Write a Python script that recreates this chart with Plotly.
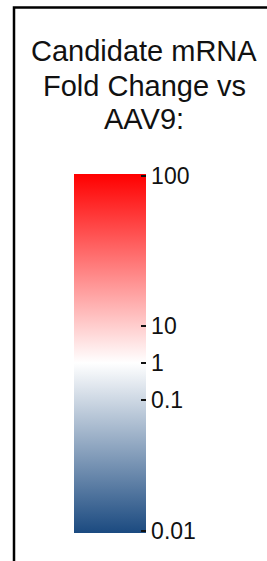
import plotly.graph_objects as go

W, H = 267, 561

# Colour bar scale (fold change vs AAV9)
tick_labels = ["0.01", "0.1", "1", "10", "100"]
tick_positions = [0.006, 0.370, 0.474, 0.577, 0.994]  # fraction along the bar
stop_positions = [0.0, 0.474, 1.0]
stop_colors = ["#1b4a80", "#ffffff", "#ff0000"]
title_lines = ["Candidate mRNA", "Fold Change vs", "AAV9:"]

FONT = "Liberation Sans Narrow, Arial Narrow, Liberation Sans, Arial, sans-serif"

colorscale = [[p, c] for p, c in zip(stop_positions, stop_colors)]

fig = go.Figure()
fig.add_trace(go.Scatter(
    x=[None], y=[None], mode="markers",
    marker=dict(
        color=[0.5], colorscale=colorscale, cmin=0, cmax=1, showscale=True,
        colorbar=dict(
            x=74 / W, xanchor="left", xpad=0,
            y=1 - 174 / H, yanchor="top", ypad=0,
            len=359, lenmode="pixels",
            thickness=72, thicknessmode="pixels",
            outlinewidth=0,
            tickmode="array", tickvals=tick_positions, ticktext=tick_labels,
            ticks="inside", ticklen=5, tickwidth=2, tickcolor="#111",
            tickfont=dict(family=FONT, size=23, color="#111"),
        ),
    ),
    hoverinfo="skip", showlegend=False,
))

title_y = [51, 86, 119]
for line, yy in zip(title_lines, title_y):
    fig.add_annotation(
        text=line, xref="paper", yref="paper", x=144 / W, y=1 - yy / H,
        xanchor="center", yanchor="middle", showarrow=False,
        font=dict(family=FONT, size=29, color="#111"),
    )

# frame (only its top and left edges fall inside the picture)
fig.add_shape(type="rect", xref="paper", yref="paper", layer="above",
              x0=14 / W, x1=1.5, y0=-0.5, y1=1 - 7.5 / H,
              line=dict(color="#000", width=2.5), fillcolor="rgba(0,0,0,0)")

fig.update_layout(
    width=W, height=H, margin=dict(l=0, r=0, t=0, b=0, pad=0, autoexpand=False),
    paper_bgcolor="white", plot_bgcolor="rgba(0,0,0,0)",
    xaxis=dict(visible=False), yaxis=dict(visible=False),
)

fig.write_html(
    "out.html",
    config={"displayModeBar": False, "staticPlot": True},
    post_script="document.body.style.margin='0';document.body.style.padding='0';document.documentElement.style.overflow='hidden';document.body.style.overflow='hidden';",
)
